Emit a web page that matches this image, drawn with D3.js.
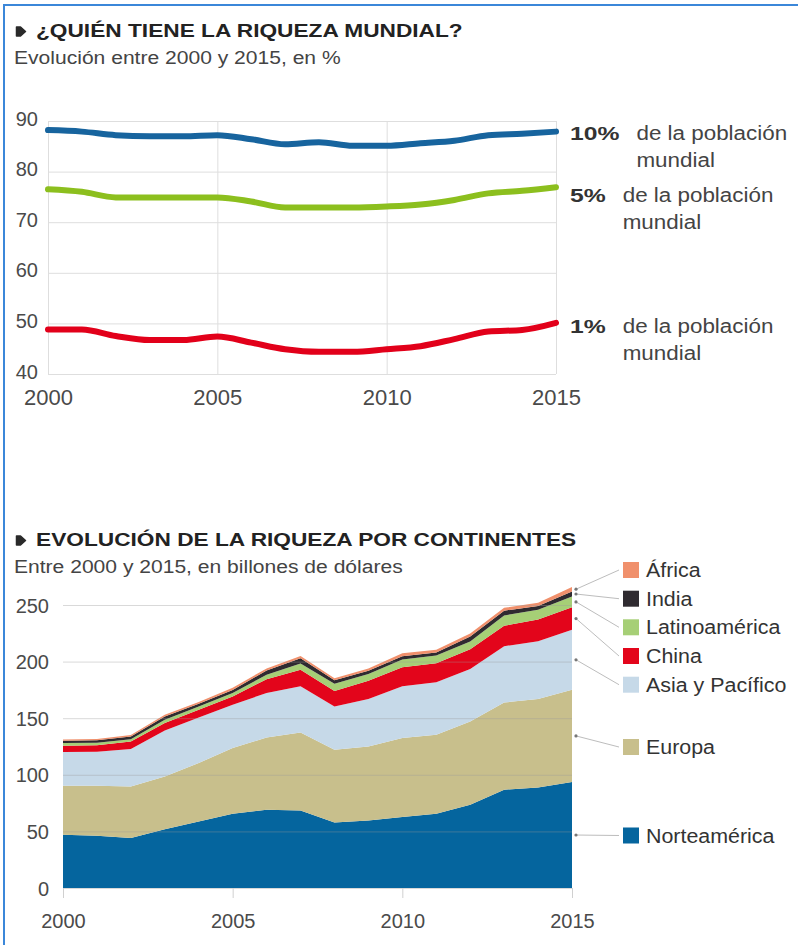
<!DOCTYPE html>
<html>
<head>
<meta charset="utf-8">
<style>
  body { margin: 0; background: #fff; }
  svg { display: block; font-family: "Liberation Sans", Arial, sans-serif; }
</style>
</head>
<body>
<svg id="svg"></svg>
<script src="https://cdn.jsdelivr.net/npm/d3@7"></script>
<script>
  var width = 798,
    height = 945;

  // ---- data: top chart, share of world wealth (%)
  var years = [2000, 2001, 2002, 2003, 2004, 2005, 2006, 2007, 2008, 2009, 2010, 2011, 2012, 2013, 2014, 2015];
  var top10 = [88.2, 87.9, 87.2, 87.0, 87.0, 87.2, 86.4, 85.4, 85.8, 85.1, 85.1, 85.6, 86.1, 87.2, 87.5, 87.9];
  var top5 = [76.5, 76.0, 74.9, 74.9, 74.9, 74.9, 74.1, 72.9, 72.9, 72.9, 73.1, 73.5, 74.4, 75.7, 76.2, 76.9];
  var top1 = [48.8, 48.8, 47.5, 46.7, 46.7, 47.4, 46.2, 44.9, 44.4, 44.4, 44.9, 45.5, 46.9, 48.4, 48.7, 50.1];
  var pctTicks = [40, 50, 60, 70, 80, 90];
  var yearTicks = [2000, 2005, 2010, 2015];

  // ---- data: bottom chart, wealth by region (billones de dólares)
  var norteamerica = [47, 46.2, 44.1, 52, 58.8, 65.6, 69.1, 68.5, 57.9, 59.7, 62.7, 65.6, 73.5, 86.8, 88.8, 93.6];
  var europa = [43.3, 44.1, 45.6, 46.5, 51.6, 58, 63.9, 68.9, 64.2, 65.3, 69.7, 69.7, 73.6, 77.1, 78.1, 81.5];
  var asiaPacifico = [29.8, 30.1, 33.0, 40.6, 40.2, 38.2, 39.3, 40.9, 38.2, 42.0, 45.9, 46.4, 46.4, 49.7, 51.1, 53.0];
  var china = [5.5, 5.6, 6.8, 6.6, 6.8, 7.4, 12.2, 14.4, 13.7, 16, 16.7, 16.9, 17.5, 18, 19.2, 19.9];
  var latinoamerica = [2.4, 2.4, 2.0, 2.9, 2.9, 3.0, 3.8, 5.6, 6.4, 6.0, 6.9, 6.8, 6.7, 9.2, 8.5, 9.5];
  var india = [2.0, 2.1, 2.4, 2.9, 2.4, 2.8, 3.8, 4.7, 3.1, 3.0, 2.9, 2.6, 4.5, 4.2, 3.4, 4.4];
  var africa = [1.2, 1.2, 1.3, 1.5, 1.6, 1.8, 1.9, 2.0, 1.8, 2.0, 2.5, 2.5, 2.6, 2.5, 2.9, 4.1];
  var wealthTicks = [0, 50, 100, 150, 200, 250];

  var series = [
    { values: top10, pct: "10%", color: "#17649e", dy: 8 },
    { values: top5, pct: "5%", color: "#8cbf1e", dy: 15 },
    { values: top1, pct: "1%", color: "#e2001a", dy: 10 }
  ];

  var layers = [
    { name: "Norteamérica", values: norteamerica, color: "#05659e" },
    { name: "Europa", values: europa, color: "#c8bf8c" },
    { name: "Asia y Pacífico", values: asiaPacifico, color: "#c6d9e8" },
    { name: "China", values: china, color: "#e3051b" },
    { name: "Latinoamérica", values: latinoamerica, color: "#a6cf76" },
    { name: "India", values: india, color: "#2f2b30" },
    { name: "África", values: africa, color: "#f0906c" }
  ];
  // legend rows, Norteamérica .. África
  var legendRowY = [835.5, 747, 684.7, 656, 627.3, 598.7, 570];

  var svg = d3.select("#svg").attr("width", width).attr("height", height);

  // stretch text horizontally (the original type is wide)
  function widen(sel, k) {
    sel.each(function () {
      var w = this.getComputedTextLength();
      d3.select(this).attr("textLength", w * k).attr("lengthAdjust", "spacingAndGlyphs");
    });
    return sel;
  }

  // frame
  svg.append("path")
    .attr("d", "M4," + height + "V5H" + width)
    .attr("fill", "none")
    .attr("stroke", "#3b87d9")
    .attr("stroke-width", 2);

  function heading(base, title, sub) {
    svg.append("path")
      .attr("d", "M16.5," + (base - 10) + "h4l5,4.5l-5,4.5h-4z")
      .attr("fill", "#2a2a2a")
      .attr("stroke", "#2a2a2a")
      .attr("stroke-width", 1.5)
      .attr("stroke-linejoin", "round");
    widen(svg.append("text")
      .attr("x", 36).attr("y", base)
      .attr("font-size", 18).attr("font-weight", "bold")
      .attr("fill", "#222")
      .text(title), 1.26);
    widen(svg.append("text")
      .attr("x", 14).attr("y", base + 26.5)
      .attr("font-size", 18)
      .attr("fill", "#444")
      .text(sub), 1.17);
  }

  heading(37, "¿QUIÉN TIENE LA RIQUEZA MUNDIAL?", "Evolución entre 2000 y 2015, en %");
  heading(546, "EVOLUCIÓN DE LA RIQUEZA POR CONTINENTES", "Entre 2000 y 2015, en billones de dólares");

  //TOP CHART
  var x1 = d3.scaleLinear().domain([2000, 2015]).range([48, 556]);
  var y1 = d3.scaleLinear().domain([40, 90]).range([374, 121]);

  var g1 = svg.append("g");

  g1.append("g")
    .attr("transform", "translate(" + x1(2000) + ",0)")
    .call(d3.axisLeft(y1).tickValues(pctTicks).tickSize(-(x1(2015) - x1(2000))).tickPadding(10))
    .call(function (g) {
      g.attr("font-size", null).attr("font-family", null);
      g.select(".domain").remove();
      g.selectAll("line").attr("stroke", "#dedede");
      g.selectAll("text").attr("font-size", 20).attr("fill", "#4a4a4a").attr("dy", "0.2em");
    });

  g1.append("g")
    .attr("transform", "translate(0," + y1(40) + ")")
    .call(d3.axisBottom(x1).tickValues(yearTicks).tickFormat(d3.format("d")).tickSize(-(y1(40) - y1(90))))
    .call(function (g) {
      g.attr("font-size", null).attr("font-family", null);
      g.select(".domain").remove();
      g.selectAll("line").attr("stroke", "#dedede");
      g.selectAll("text").attr("font-size", 22).attr("fill", "#4a4a4a").attr("y", 31).attr("dy", 0);
    });

  var line = d3.line()
    .x(function (d, i) { return x1(years[i]); })
    .y(function (d) { return y1(d); })
    .curve(d3.curveMonotoneX);

  g1.selectAll(".share")
    .data(series)
    .enter()
    .append("path")
    .attr("class", "share")
    .attr("d", function (d) { return line(d.values); })
    .attr("fill", "none")
    .attr("stroke", function (d) { return d.color; })
    .attr("stroke-width", 6)
    .attr("stroke-linecap", "round")
    .attr("stroke-linejoin", "round");

  series.forEach(function (s) {
    var base = y1(s.values[s.values.length - 1]) + s.dy;
    var lx = x1(2015) + 14;
    var b = widen(g1.append("text")
      .attr("x", lx).attr("y", base)
      .attr("font-size", 19).attr("font-weight", "bold")
      .attr("fill", "#333")
      .text(s.pct), 1.3);
    var tx = lx + +b.attr("textLength") + 17;
    widen(g1.append("text")
      .attr("x", tx).attr("y", base)
      .attr("font-size", 20).attr("fill", "#444")
      .text("de la población"), 1.12);
    widen(g1.append("text")
      .attr("x", tx).attr("y", base + 27)
      .attr("font-size", 20).attr("fill", "#444")
      .text("mundial"), 1.12);
  });

  //BOTTOM CHART
  var x2 = d3.scaleLinear().domain([2000, 2015]).range([63, 572]);
  var y2 = d3.scaleLinear().domain([0, 250]).range([888, 605]);

  var rows = years.map(function (yr, i) {
    var row = { year: yr };
    layers.forEach(function (l) { row[l.name] = l.values[i]; });
    return row;
  });

  var stacked = d3.stack().keys(layers.map(function (l) { return l.name; }))(rows);

  var area = d3.area()
    .x(function (d) { return x2(d.data.year); })
    .y0(function (d) { return y2(d[0]); })
    .y1(function (d) { return y2(d[1]); });

  var g2 = svg.append("g");

  g2.selectAll(".layer")
    .data(stacked)
    .enter()
    .append("path")
    .attr("class", "layer")
    .attr("d", area)
    .attr("fill", function (d, i) { return layers[i].color; });

  // outline of the whole stack, to keep the vertical grid inside it
  var outline = d3.area()
    .x(function (d) { return x2(d.data.year); })
    .y0(y2(0))
    .y1(function (d) { return y2(d[1]); });

  svg.append("defs").append("clipPath").attr("id", "stackclip")
    .append("path").attr("d", outline(stacked[stacked.length - 1]));

  g2.append("g")
    .attr("transform", "translate(" + x2(2000) + ",0)")
    .call(d3.axisLeft(y2).tickValues(wealthTicks).tickSize(-(x2(2015) - x2(2000))).tickPadding(14))
    .call(function (g) {
      g.attr("font-size", null).attr("font-family", null);
      g.select(".domain").remove();
      g.selectAll("line").attr("stroke", "#9c9c9c").attr("stroke-opacity", 0.38);
      g.selectAll("text").attr("font-size", 20).attr("fill", "#4a4a4a").attr("dy", "0.35em");
    });

  g2.append("g")
    .attr("clip-path", "url(#stackclip)")
    .attr("transform", "translate(0," + y2(0) + ")")
    .call(d3.axisBottom(x2).tickValues([2005, 2010]).tickFormat("").tickSize(-(y2(0) - y2(250))))
    .call(function (g) {
      g.select(".domain").remove();
      g.selectAll("line").attr("stroke", "#9c9c9c").attr("stroke-opacity", 0.38);
    });

  g2.append("g")
    .attr("transform", "translate(0," + y2(0) + ")")
    .call(d3.axisBottom(x2).tickValues(yearTicks).tickFormat(d3.format("d")).tickSize(10))
    .call(function (g) {
      g.attr("font-size", null).attr("font-family", null);
      g.select(".domain").remove();
      g.selectAll("line").attr("stroke", "#d0d0d0");
      g.selectAll("text").attr("font-size", 20).attr("fill", "#4a4a4a").attr("y", 40).attr("dy", 0);
    });

  // LEGEND with leader lines
  var last = stacked.map(function (s) { return s[s.length - 1]; });
  var legend = g2.selectAll(".legend")
    .data(layers)
    .enter()
    .append("g")
    .attr("class", "legend");

  legend.append("line")
    .attr("x1", x2(2015) + 4)
    .attr("y1", function (d, i) { return y2((last[i][0] + last[i][1]) / 2); })
    .attr("x2", 619)
    .attr("y2", function (d, i) { return legendRowY[i]; })
    .attr("stroke", "#bdbdbd")
    .attr("stroke-width", 1);

  legend.append("circle")
    .attr("cx", x2(2015) + 4)
    .attr("cy", function (d, i) { return y2((last[i][0] + last[i][1]) / 2); })
    .attr("r", 1.6)
    .attr("fill", "#777");

  legend.append("rect")
    .attr("x", 623)
    .attr("y", function (d, i) { return legendRowY[i] - 8; })
    .attr("width", 16)
    .attr("height", 16)
    .attr("fill", function (d) { return d.color; });

  widen(legend.append("text")
    .attr("x", 646)
    .attr("y", function (d, i) { return legendRowY[i] + 7; })
    .attr("font-size", 20)
    .attr("fill", "#333")
    .text(function (d) { return d.name; }), 1.07);
</script>
</body>
</html>
